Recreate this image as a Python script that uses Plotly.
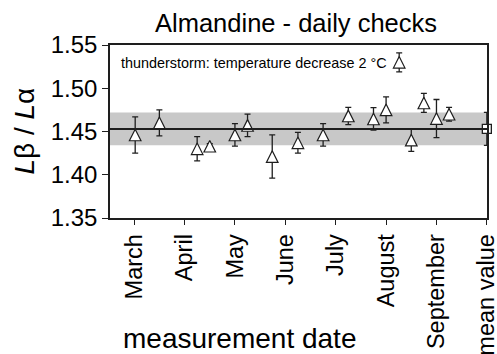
import plotly.graph_objects as go

# Measurement dates as months since 1 March, ratio values and their uncertainties
month_pos = [0.02, 0.50, 1.25, 1.50, 2.00, 2.25, 2.74, 3.25, 3.75, 4.25, 4.75, 5.00, 5.26, 5.50, 5.75, 6.00, 6.25]
ratio = [1.446, 1.460, 1.430, 1.433, 1.446, 1.457, 1.421, 1.437, 1.446, 1.468, 1.4645, 1.475, 1.530, 1.440, 1.483, 1.465, 1.470]
ratio_err = [0.021, 0.015, 0.014, 0.003, 0.013, 0.013, 0.025, 0.012, 0.013, 0.010, 0.013, 0.015, 0.011, 0.013, 0.011, 0.022, 0.008]

mean_value = 1.453
mean_err = 0.019

tick_pos = [0, 1, 2, 3, 4, 5, 6, 7]
tick_labels = ["March", "April", "May", "June", "July", "August", "September", "mean value"]
y_ticks = [1.35, 1.40, 1.45, 1.50, 1.55]

W, H = 497, 354
M_L, M_R, M_T, M_B = 110, 10, 45, 136
y_lo, y_hi = 1.35, 1.55
x_lo, x_hi = -0.48, 7.003
plot_h = H - M_T - M_B

FONT = "Arial, Liberation Sans, Helvetica, sans-serif"
INK = "#1e1e1e"

# arrow-up symbols hang below their anchor by one radius; a shifted overlay axis re-centres them
tri_size = 11.6
shift = (tri_size / 2) * (y_hi - y_lo) / plot_h

fig = go.Figure()

# error bars of the daily checks
fig.add_trace(go.Scatter(
    x=month_pos, y=ratio, mode="markers",
    marker=dict(size=1, color="rgba(0,0,0,0)"),
    error_y=dict(type="data", array=ratio_err, visible=True, color=INK, thickness=1.3, width=3),
    showlegend=False, hoverinfo="skip",
))

# open triangles of the daily checks
fig.add_trace(go.Scatter(
    x=month_pos, y=ratio, mode="markers", yaxis="y2",
    marker=dict(symbol="arrow-up", size=tri_size, color="white", line=dict(color=INK, width=1.2)),
    showlegend=False,
))

# overall mean with its spread
fig.add_trace(go.Scatter(
    x=[tick_pos[-1]], y=[mean_value], mode="markers",
    marker=dict(symbol="square", size=9, color="white", line=dict(color=INK, width=1.3)),
    error_y=dict(type="data", array=[mean_err], visible=True, color=INK, thickness=1.3, width=3),
    cliponaxis=False, showlegend=False,
))

fig.add_shape(type="rect", xref="paper", yref="y", x0=0, x1=1,
              y0=mean_value - mean_err, y1=mean_value + mean_err,
              fillcolor="#c8c8c8", line=dict(width=0), layer="below")
fig.add_shape(type="line", xref="paper", yref="y", x0=0, x1=1,
              y0=mean_value, y1=mean_value, line=dict(color=INK, width=2))

axis_common = dict(showline=True, linecolor=INK, linewidth=1.5, mirror=True,
                   showgrid=False, zeroline=False, ticks="outside",
                   tickwidth=1.3, tickcolor=INK, automargin=False)

fig.update_layout(
    width=W, height=H,
    margin=dict(l=M_L, r=M_R, t=M_T, b=M_B, pad=0, autoexpand=False),
    paper_bgcolor="white", plot_bgcolor="white",
    font=dict(family=FONT, color="black"),
    xaxis=dict(range=[x_lo, x_hi], tickmode="array", tickvals=tick_pos, ticktext=tick_labels,
               tickangle=-90, tickfont=dict(size=23.5, family=FONT, color="black"),
               ticklabeloverflow="allow", ticklen=5, **axis_common),
    yaxis=dict(range=[y_lo, y_hi], tickvals=y_ticks, tickformat=".2f", ticklen=6,
               tickfont=dict(size=24, family=FONT, color="black"), **axis_common),
    yaxis2=dict(range=[y_lo - shift, y_hi - shift], overlaying="y", visible=False,
                showgrid=False, zeroline=False),
    annotations=[
        dict(text="Almandine - daily checks", xref="paper", yref="paper",
             x=0.493, y=(218 - 23) / plot_h, xanchor="center", yanchor="middle",
             showarrow=False, font=dict(size=25.5, family=FONT, color="black")),
        dict(text="thunderstorm: temperature decrease 2 °C", xref="paper", yref="paper",
             x=9 / 377, y=(218 - 62.5) / plot_h, xanchor="left", yanchor="middle",
             showarrow=False, font=dict(size=14.4, family=FONT, color="black")),
        dict(text="measurement date", xref="paper", yref="paper",
             x=(239 - M_L) / 377, y=(218 - 338) / plot_h, xanchor="center", yanchor="middle",
             showarrow=False, font=dict(size=28, family=FONT, color="black")),
        dict(text="<i>L</i>β / <i>L</i>α", xref="paper", yref="paper",
             x=(24 - M_L) / 377, y=0.5, xanchor="center", yanchor="middle", textangle=-90,
             showarrow=False, font=dict(size=28, family=FONT, color="black")),
    ],
)

fig.write_html("out.html")
